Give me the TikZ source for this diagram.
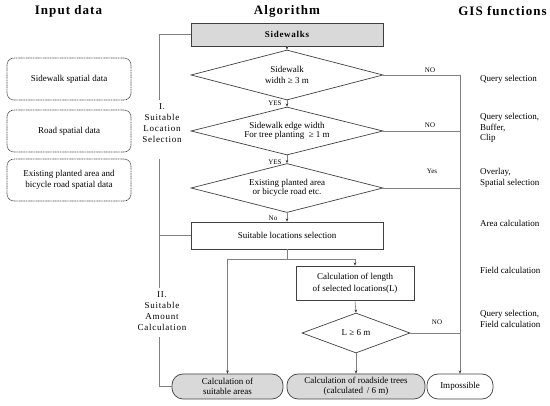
\documentclass[tikz,border=0pt]{standalone}
\usepackage{fontspec}
\setmainfont{Liberation Serif}
\newfontfamily\spacedfont[LetterSpace=8]{Liberation Serif}
\usetikzlibrary{shapes.geometric,arrows.meta}
\begin{document}
\begin{tikzpicture}[x=1pt,y=-1pt,
  font=\fontsize{9}{11}\selectfont,
  every node/.style={inner sep=0pt, align=center},
  titletext/.style={font=\spacedfont\bfseries\fontsize{13}{15}\selectfont},
  sectext/.style={font=\spacedfont\fontsize{9}{10.8}\selectfont},
  smalllab/.style={font=\fontsize{7}{8}\selectfont},
  gistext/.style={anchor=west, align=left},
  shp/.style={draw=black!75, line width=0.7pt},
  conn/.style={draw=black!50, line width=0.6pt},
  arr/.style={conn, -{Stealth[length=3.2pt,width=2.6pt,color=black!80]}},
  procbox/.style={shp, rectangle},
  dia/.style={shp, diamond},
  rbox/.style={shp, rounded corners=11pt, minimum height=25pt},
  inbox/.style={draw=black!70, line width=0.7pt, dash pattern=on 1.1pt off 0.6pt,
    rounded corners=7pt, minimum width=124pt, minimum height=42pt},
]
\useasboundingbox (0,0) rectangle (550,406);

% titles
\node[titletext] (t1) at (68.5,11) {Input data};
\node[titletext] (t2) at (287,11) {Algorithm};
\node[titletext] (t3) at (502.5,11) {GIS functions};

% input data
\node[inbox] (in1) at (69,79) {Sidewalk spatial data};
\node[inbox] (in2) at (69,131) {Road spatial data};
\node[inbox] (in3) at (69,180) {Existing planted area and\\bicycle road spatial data};

% algorithm
\node[procbox, fill=black!15, minimum width=192pt, minimum height=23pt,
  font=\spacedfont\bfseries\fontsize{9}{11}\selectfont] (sw) at (287,34.5) {Sidewalks};
\node[dia, minimum width=192pt, minimum height=50pt, aspect=3.84] (d1) at (287,75)
  {Sidewalk\\width ≥ 3 m};
\node[dia, minimum width=192pt, minimum height=48pt, aspect=4,
  font=\fontsize{9}{8.5}\selectfont] (d2) at (287,131)
  {Sidewalk edge width\\For tree planting \ ≥ 1 m};
\node[dia, minimum width=192pt, minimum height=49pt, aspect=3.9,
  font=\fontsize{9}{8.5}\selectfont] (d3) at (287,188)
  {Existing planted area\\or bicycle road etc.};
\node[procbox, minimum width=192pt, minimum height=27pt] (sel) at (287,235.5)
  {Suitable locations selection};
\node[procbox, minimum width=118pt, minimum height=34pt, font=\fontsize{9}{12}\selectfont] (calcL) at (355,283)
  {Calculation of length\\of selected locations(L)};
\node[dia, minimum width=108pt, minimum height=40pt, aspect=2.7] (d4) at (356,333)
  {L ≥ 6 m};
\node[rbox, fill=black!15, minimum width=111pt, font=\fontsize{9}{10}\selectfont] (calcA) at (227.5,386.5)
  {Calculation of\\suitable areas};
\node[rbox, fill=black!15, minimum width=138pt, font=\fontsize{9}{10}\selectfont] (calcR) at (356,386.5)
  {Calculation of roadside trees\\(calculated \,/ 6 m)};
\node[rbox, fill=white, minimum width=66pt] (imp) at (460,386.5) {Impossible};

% main flow
\draw[arr] (sw.south) -- (d1.north);
\draw[arr] (d1.south) -- (d2.north);
\draw[arr] (d2.south) -- (d3.north);
\draw[arr] (d3.south) -- (sel.north);
\node[smalllab] (y1) at (275,103) {YES};
\node[smalllab] (y2) at (275,162) {YES};
\node[smalllab] (n3) at (273,218) {No};

% split after selection
\coordinate (s1) at (287,259);
\draw[conn] (sel.south) -- (s1);
\draw[conn] (calcA.north |- s1) -- (calcL.north |- s1);
\draw[arr] (calcL.north |- s1) -- (calcL.north);
\draw[arr] (calcA.north |- s1) -- (calcA.north);
\draw[arr] (calcL.south) -- (d4.north);
\draw[arr] (d4.south) -- (calcR.north);

% NO branches
\coordinate (r1) at (imp.north |- d1.east);
\draw[conn] (d1.east) -- (r1);
\draw[arr] (r1) -- (imp.north);
\draw[conn] (d2.east) -- (d2.east -| imp.north);
\draw[conn] (d3.east) -- (d3.east -| imp.north);
\draw[conn] (d4.east) -- (d4.east -| imp.north);
\node[smalllab] (no1) at (430,70) {NO};
\node[smalllab] (no2) at (430,125) {NO};
\node[smalllab] (ye3) at (432,171) {Yes};
\node[smalllab] (no4) at (437,322) {NO};

% left brackets
\coordinate (b1) at (159,100);
\coordinate (b2) at (159,159);
\coordinate (b3) at (159,288);
\coordinate (b4) at (159,337);
\draw[conn] (sw.west) -| (b1);
\node[sectext] (lab1) at (162,123) {I.\\Suitable\\Location\\Selection};
\draw[conn] (b2) -- (b3);
\draw[conn] (sel.west) -- (sel.west -| b2);
\node[sectext] (lab2) at (162,311) {II.\\Suitable\\Amount\\Calculation};
\draw[conn] (b4) |- (calcA.west);

% GIS functions
\node[gistext] (g1) at (480,79) {Query selection};
\node[gistext, font=\fontsize{9}{10.5}\selectfont] (g2) at (480,128) {Query selection,\\Buffer,\\Clip};
\node[gistext] (g3) at (480,177.5) {Overlay,\\Spatial selection};
\node[gistext] (g4) at (480,223) {Area calculation};
\node[gistext] (g5) at (480,270) {Field calculation};
\node[gistext] (g6) at (480,318.5) {Query selection,\\Field calculation};
\end{tikzpicture}
\end{document}
